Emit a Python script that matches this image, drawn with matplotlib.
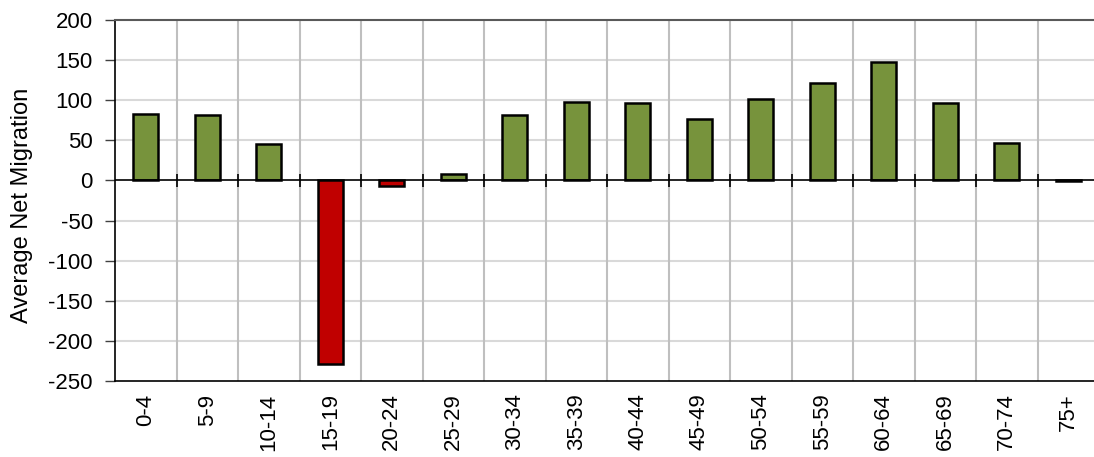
import matplotlib
matplotlib.use("Agg")
import matplotlib.pyplot as plt
import numpy as np

categories = ["0-4", "5-9", "10-14", "15-19", "20-24", "25-29", "30-34", "35-39",
              "40-44", "45-49", "50-54", "55-59", "60-64", "65-69", "70-74", "75+"]
values = [83, 82, 45, -229, -7, 8, 81, 98, 96, 77, 102, 121, 148, 97, 47, -1]
y_ticks = [-250, -200, -150, -100, -50, 0, 50, 100, 150, 200]

plt.rcParams['font.family'] = ['Liberation Sans', 'DejaVu Sans']

fig = plt.figure(figsize=(10.94, 4.57), dpi=100)
ax = fig.add_axes([115/1094, 1 - 381/457, (1094 - 115)/1094, (381 - 20)/457])

x = np.arange(len(categories))
colors = ["#77933C" if v >= 0 else "#C00000" for v in values]
ax.bar(x, values, width=0.41, color=colors, edgecolor="black", linewidth=1.8, zorder=3)

ax.set_ylim(-250, 200)
ax.set_xlim(-0.5, -0.5 + 979/61.5)
ax.set_yticks(y_ticks)
ax.set_yticklabels([str(t) for t in y_ticks], fontsize=16)
ax.set_xticks(x)
ax.set_xticklabels(categories, rotation=90, fontsize=16)
ax.tick_params(axis='x', length=0, pad=9)
ax.tick_params(axis='y', length=7, width=1, color="#404040", pad=9)

# grid
for yt in y_ticks:
    if yt not in (0, -250, 200):
        ax.axhline(yt, color="#d9d9d9", linewidth=1.5, zorder=1)
for b in x[:-1] + 0.5:
    ax.axvline(b, color="#bfbfbf", linewidth=1.5, zorder=1)

# zero axis with tick marks
ax.axhline(0, color="black", linewidth=1.2, zorder=4)
ax.vlines(x[:-1] + 0.5, -8, 8, color="black", linewidth=1.2, zorder=4)

ax.spines["right"].set_visible(False)
ax.spines["top"].set_color("#595959")
ax.spines["top"].set_linewidth(1.5)
ax.spines["left"].set_color("black")
ax.spines["left"].set_linewidth(1.2)
ax.spines["bottom"].set_color("black")
ax.spines["bottom"].set_linewidth(1.2)

ax.set_ylabel("Average Net Migration", fontsize=17)
ax.yaxis.set_label_coords(-82/979, (381 - 205) / 361)

fig.savefig("out.png", dpi=100)
